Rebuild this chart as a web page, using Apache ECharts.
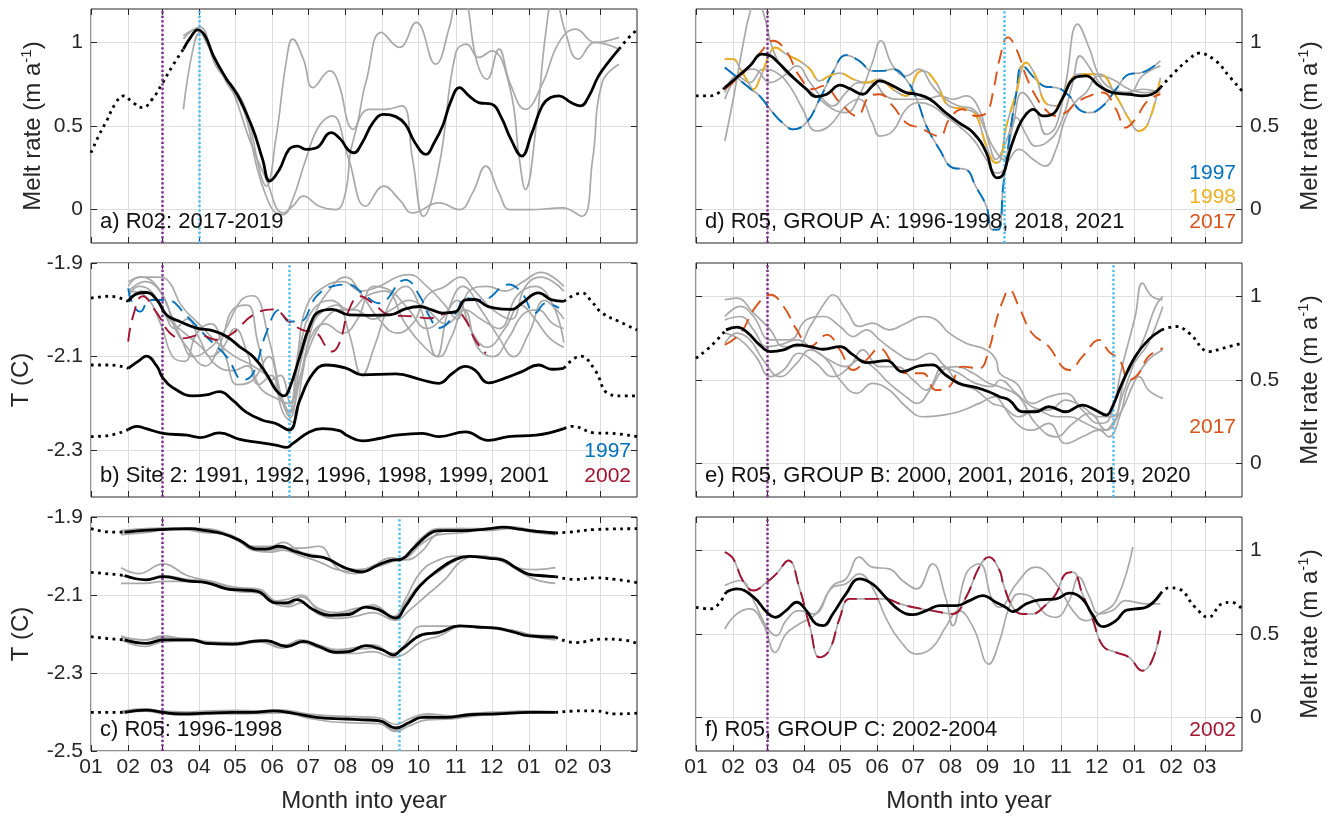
<!DOCTYPE html>
<html>
<head>
<meta charset="utf-8">
<script src="https://cdn.jsdelivr.net/npm/echarts@6/dist/echarts.min.js"></script>
<style>
  html, body { margin: 0; padding: 0; background: #fff; }
  #chart { width: 1336px; height: 820px; }
</style>
</head>
<body>
<div id="chart"></div>
<script>
// ---------- axes ----------
const MONTH_STARTS = [0, 31, 59, 90, 120, 151, 181, 212, 243, 273, 304, 334, 365, 396, 424];
const MONTH_LABELS = ['01', '02', '03', '04', '05', '06', '07', '08', '09', '10', '11', '12', '01', '02', '03'];
const DAY_MAX = 455;
const MELT_TICKS = [0, 0.5, 1];
const TEMP_TICKS_B = [-2.3, -2.1, -1.9];
const TEMP_TICKS_C = [-2.5, -2.3, -2.1, -1.9];

// ---------- a) R02 melt rate, [day, m/yr] ----------
const a_mean = [[0,0.34],[7,0.45],[13,0.53],[20,0.63],[27,0.68],[35,0.64],[43,0.61],[51,0.66],[59,0.75],[68,0.86],[77,0.96],[83,1.03],[89,1.075],[95,1.04],[102,0.92],[113,0.78],[118,0.73],[124,0.66],[135,0.48],[143,0.3],[149,0.17],[157,0.24],[165,0.36],[172,0.38],[179,0.36],[188,0.37],[200,0.46],[208,0.42],[214,0.36],[219,0.34],[226,0.4],[235,0.52],[244,0.57],[254,0.556],[262,0.51],[270,0.4],[279,0.33],[286,0.4],[293,0.5],[300,0.65],[307,0.73],[315,0.68],[323,0.64],[334,0.63],[342,0.55],[350,0.42],[359,0.32],[367,0.45],[376,0.62],[383,0.67],[390,0.68],[400,0.64],[408,0.62],[415,0.68],[423,0.8],[432,0.89],[440,0.96],[447,1.02],[454,1.07]];
const a_g1 = [[77,1.02],[84,1.07],[91,1.09],[104,0.86],[118,0.74],[129,0.6],[141,0.22],[146,0.14],[154,0.42],[163,0.9],[168,1.02],[177,0.9],[185,0.73],[199,0.83],[207,0.74],[214,0.52],[218,0.48],[229,0.76],[242,1.06],[257,0.97],[271,1.12],[287,0.87],[299,1.1],[306,1.3],[312,1.28],[321,0.9],[330,0.78],[340,0.96],[349,0.76],[362,0.6],[376,0.75],[390,1.0],[404,1.08],[420,1.0],[440,1.03]];
const a_g2 = [[77,0.6],[85,0.96],[91,1.06],[102,0.92],[118,0.71],[132,0.42],[146,0.18],[160,-0.02],[168,0.02],[177,0.08],[190,0.02],[204,0.0],[212,0.1],[218,0.4],[232,0.6],[245,0.6],[259,0.62],[268,0.3],[277,-0.04],[290,0.26],[304,0.94],[313,0.99],[323,0.91],[334,0.95],[349,0.73],[357,0.3],[362,0.12],[371,0.5],[379,1.06],[386,1.3],[395,1.07],[406,0.9],[420,1.0],[440,0.96]];
const a_g3 = [[77,1.04],[88,1.08],[96,1.0],[113,0.76],[127,0.6],[138,0.26],[146,0.08],[154,-0.02],[160,-0.03],[168,0.06],[179,0.3],[190,0.5],[201,0.56],[214,0.32],[229,0.02],[244,0.14],[257,0.06],[268,-0.02],[290,0.04],[307,0.0],[318,0.1],[329,0.26],[340,0.1],[349,0.0],[366,0.0],[393,0.01],[409,-0.04],[418,0.3],[426,0.76],[440,0.87]];

// ---------- b) Site 2 temperature, [day, degC] ----------
const b_mean1 = [[0,-1.975],[16,-1.971],[31,-1.982],[38,-1.966],[46,-1.963],[55,-1.979],[63,-2.011],[74,-2.025],[88,-2.039],[102,-2.045],[113,-2.057],[124,-2.079],[135,-2.1],[146,-2.136],[154,-2.171],[161,-2.184],[165,-2.171],[174,-2.1],[182,-2.036],[190,-2.004],[201,-1.999],[215,-2.011],[232,-2.012],[249,-2.011],[262,-1.998],[274,-1.993],[284,-2.0],[293,-2.007],[304,-2.004],[312,-1.979],[320,-1.978],[331,-1.993],[351,-1.999],[359,-1.986],[373,-1.964],[384,-1.979],[394,-1.982],[409,-1.964],[418,-1.985],[426,-2.007],[440,-2.025],[455,-2.043]];
const b_mean2 = [[0,-2.118],[16,-2.118],[31,-2.125],[41,-2.107],[46,-2.099],[55,-2.121],[60,-2.146],[71,-2.171],[85,-2.184],[96,-2.182],[107,-2.175],[118,-2.193],[129,-2.218],[143,-2.236],[154,-2.243],[165,-2.257],[174,-2.193],[185,-2.136],[196,-2.118],[213,-2.125],[226,-2.139],[254,-2.137],[276,-2.15],[290,-2.157],[301,-2.136],[312,-2.121],[320,-2.129],[331,-2.156],[345,-2.146],[359,-2.132],[373,-2.118],[384,-2.127],[394,-2.125],[408,-2.099],[420,-2.129],[431,-2.179],[443,-2.184],[455,-2.184]];
const b_mean3 = [[0,-2.271],[16,-2.268],[31,-2.256],[38,-2.249],[46,-2.254],[60,-2.264],[80,-2.268],[91,-2.273],[107,-2.263],[124,-2.277],[141,-2.284],[154,-2.289],[163,-2.294],[168,-2.286],[182,-2.261],[193,-2.254],[207,-2.258],[213,-2.268],[226,-2.28],[240,-2.275],[254,-2.268],[276,-2.264],[290,-2.271],[312,-2.261],[331,-2.279],[348,-2.271],[371,-2.268],[394,-2.254],[401,-2.249],[420,-2.263],[434,-2.264],[455,-2.271]];
const b_g1 = [[31,-1.95],[40,-1.93],[55,-1.93],[65,-1.94],[75,-1.99],[90,-2.03],[105,-2.07],[120,-2.1],[135,-2.12],[150,-2.15],[160,-2.2],[165,-2.22],[172,-2.1],[180,-1.99],[195,-1.95],[210,-1.94],[225,-1.96],[240,-1.95],[255,-1.93],[265,-1.925],[280,-1.95],[295,-1.99],[305,-2.02],[315,-1.96],[330,-1.95],[345,-1.96],[360,-1.94],[375,-1.92],[385,-1.93],[394,-1.95]];
const b_g2 = [[31,-1.97],[40,-1.95],[50,-1.96],[60,-2.0],[70,-2.04],[80,-2.02],[90,-2.06],[100,-2.1],[110,-2.08],[120,-2.04],[130,-2.09],[140,-2.16],[150,-2.14],[160,-2.22],[168,-2.24],[176,-2.14],[185,-2.03],[195,-2.0],[205,-1.99],[215,-2.05],[226,-2.14],[236,-2.08],[250,-1.98],[262,-1.95],[275,-2.0],[288,-2.1],[298,-2.0],[310,-1.95],[325,-2.0],[340,-2.06],[352,-2.1],[365,-2.05],[378,-1.98],[388,-2.0],[394,-2.02]];
const b_g3 = [[31,-1.96],[45,-1.94],[60,-1.97],[70,-2.04],[80,-2.08],[95,-2.12],[108,-2.07],[118,-2.0],[130,-1.99],[140,-2.08],[150,-2.15],[158,-2.14],[166,-2.2],[175,-2.07],[185,-2.0],[200,-1.98],[215,-2.0],[230,-1.97],[245,-1.96],[262,-2.03],[278,-2.08],[290,-2.1],[300,-2.06],[312,-2.0],[325,-2.02],[340,-2.04],[355,-1.97],[370,-1.95],[385,-1.99],[394,-2.07]];
const b_g4 = [[31,-1.94],[42,-1.93],[55,-1.95],[65,-2.0],[75,-2.06],[85,-2.1],[95,-2.09],[110,-2.05],[125,-1.98],[135,-1.97],[148,-2.06],[160,-2.2],[166,-2.23],[174,-2.12],[185,-2.02],[198,-1.96],[212,-1.93],[226,-1.97],[240,-2.02],[255,-2.05],[268,-2.03],[280,-1.97],[295,-1.95],[308,-1.93],[320,-1.96],[335,-2.0],[350,-2.02],[362,-1.95],[375,-1.93],[385,-1.94],[394,-1.96]];
const b_g5 = [[31,-1.96],[45,-1.97],[58,-2.03],[68,-2.1],[78,-2.11],[88,-2.05],[100,-2.03],[112,-2.1],[122,-2.16],[135,-2.15],[148,-2.1],[158,-2.18],[166,-2.22],[174,-2.15],[183,-2.06],[195,-2.03],[210,-2.05],[222,-2.02],[236,-1.95],[250,-1.96],[265,-2.0],[280,-2.04],[292,-2.02],[305,-1.98],[318,-2.05],[330,-2.08],[345,-2.04],[358,-1.99],[370,-2.02],[382,-2.06],[394,-2.08]];
const b_g6 = [[31,-1.98],[42,-1.96],[55,-1.98],[65,-2.02],[78,-2.05],[92,-2.08],[105,-2.12],[118,-2.13],[130,-2.12],[142,-2.17],[155,-2.19],[165,-2.2],[172,-2.16],[182,-2.08],[195,-2.02],[208,-2.0],[220,-2.0],[235,-2.02],[250,-2.0],[265,-1.98],[280,-2.0],[296,-2.03],[310,-2.0],[322,-2.08],[335,-2.1],[348,-2.06],[360,-2.01],[372,-2.0],[385,-2.03],[394,-2.04]];
const b_1997 = [[31,-1.954],[35,-1.989],[41,-2.004],[49,-1.979],[63,-1.979],[80,-2.014],[96,-2.057],[113,-2.1],[127,-2.15],[135,-2.136],[146,-2.05],[157,-2.0],[165,-2.025],[174,-2.025],[188,-1.971],[201,-1.95],[215,-1.946],[226,-1.964],[240,-1.986],[262,-1.936],[274,-1.971],[282,-2.014],[290,-2.039],[304,-2.007],[312,-1.975],[326,-1.979],[348,-1.946],[359,-1.964],[370,-2.007],[379,-1.986],[390,-1.996]];
const b_2002 = [[31,-2.068],[35,-2.014],[43,-1.971],[55,-2.007],[66,-2.05],[77,-2.061],[91,-2.054],[104,-2.064],[118,-2.05],[135,-2.011],[152,-1.999],[165,-2.025],[176,-2.043],[188,-2.05],[196,-2.079],[201,-2.089],[207,-2.071],[215,-2.0],[224,-1.971],[235,-1.986],[249,-2.011],[268,-2.014],[282,-2.018],[296,-2.007],[304,-2.004],[312,-2.021],[320,-2.064],[329,-2.093]];

// ---------- c) R05 temperature at four depths, [day, degC] ----------
const c_mean1 = [[0,-1.93],[19,-1.939],[28,-1.939],[41,-1.935],[60,-1.932],[82,-1.93],[96,-1.935],[110,-1.943],[124,-1.96],[138,-1.982],[146,-1.982],[157,-1.975],[168,-1.986],[182,-1.999],[196,-2.006],[206,-2.022],[213,-2.032],[226,-2.041],[238,-2.025],[249,-2.012],[259,-2.008],[268,-1.982],[282,-1.943],[290,-1.935],[310,-1.935],[332,-1.93],[343,-1.926],[359,-1.932],[371,-1.937],[387,-1.941],[398,-1.939],[420,-1.932],[455,-1.93]];
const c_mean2 = [[0,-2.042],[19,-2.047],[28,-2.05],[46,-2.061],[60,-2.053],[80,-2.064],[96,-2.068],[113,-2.084],[124,-2.087],[138,-2.09],[154,-2.12],[163,-2.12],[171,-2.112],[185,-2.137],[199,-2.152],[215,-2.15],[229,-2.131],[240,-2.138],[254,-2.159],[262,-2.129],[274,-2.077],[290,-2.034],[304,-2.008],[315,-2.001],[332,-2.006],[343,-2.01],[354,-2.03],[365,-2.047],[379,-2.051],[387,-2.053],[404,-2.06],[420,-2.056],[437,-2.06],[455,-2.068]];
const c_mean3 = [[0,-2.207],[19,-2.213],[28,-2.215],[46,-2.224],[60,-2.215],[85,-2.215],[96,-2.224],[118,-2.226],[135,-2.219],[146,-2.217],[163,-2.232],[177,-2.219],[190,-2.232],[204,-2.247],[215,-2.245],[229,-2.23],[243,-2.241],[252,-2.254],[259,-2.239],[276,-2.202],[290,-2.196],[307,-2.179],[321,-2.182],[338,-2.185],[351,-2.194],[365,-2.205],[387,-2.208],[404,-2.222],[426,-2.213],[443,-2.215],[455,-2.224]];
const c_mean4 = [[0,-2.401],[21,-2.401],[28,-2.401],[46,-2.395],[60,-2.401],[74,-2.405],[96,-2.403],[118,-2.401],[135,-2.401],[152,-2.397],[168,-2.403],[188,-2.414],[213,-2.418],[226,-2.42],[240,-2.422],[254,-2.441],[265,-2.427],[276,-2.414],[296,-2.414],[315,-2.407],[338,-2.405],[365,-2.401],[387,-2.401],[409,-2.397],[420,-2.397],[437,-2.405],[455,-2.403]];
const c_g1a = [[25,-1.935],[45,-1.93],[70,-1.928],[95,-1.93],[115,-1.945],[135,-1.975],[150,-1.975],[160,-1.965],[175,-1.99],[190,-2.0],[205,-2.02],[220,-2.035],[235,-2.03],[250,-2.015],[262,-2.0],[275,-1.955],[290,-1.93],[310,-1.93],[330,-1.93],[350,-1.925],[370,-1.935],[387,-1.94]];
const c_g1b = [[25,-1.94],[45,-1.935],[70,-1.932],[95,-1.935],[115,-1.95],[135,-1.98],[150,-1.985],[160,-1.98],[175,-1.98],[190,-1.975],[205,-2.03],[220,-2.045],[235,-2.03],[250,-2.01],[262,-2.005],[275,-1.97],[290,-1.945],[310,-1.94],[330,-1.93],[350,-1.928],[370,-1.935],[387,-1.94]];
const c_g1c = [[25,-1.945],[45,-1.94],[70,-1.93],[95,-1.94],[115,-1.945],[135,-1.985],[150,-1.99],[160,-1.985],[175,-2.0],[190,-2.015],[205,-2.035],[220,-2.04],[235,-2.025],[250,-2.005],[262,-2.01],[275,-1.99],[290,-1.94],[310,-1.93],[330,-1.935],[350,-1.93],[370,-1.94],[387,-1.945]];
const c_g2a = [[25,-2.03],[40,-2.045],[60,-2.02],[80,-2.05],[100,-2.065],[120,-2.08],[140,-2.085],[155,-2.115],[165,-2.11],[175,-2.1],[190,-2.14],[205,-2.15],[220,-2.14],[235,-2.125],[252,-2.155],[262,-2.11],[275,-2.04],[290,-2.01],[305,-2.0],[320,-2.0],[340,-2.005],[355,-2.03],[370,-2.035],[387,-2.03]];
const c_g2b = [[25,-2.07],[45,-2.07],[60,-2.065],[80,-2.065],[100,-2.07],[120,-2.09],[140,-2.095],[155,-2.125],[165,-2.13],[175,-2.12],[190,-2.15],[205,-2.16],[220,-2.155],[235,-2.145],[254,-2.165],[265,-2.14],[280,-2.1],[295,-2.06],[310,-2.01],[325,-2.0],[340,-2.01],[355,-2.035],[370,-2.06],[387,-2.07]];
const c_g2c = [[25,-2.05],[45,-2.06],[60,-2.05],[80,-2.06],[100,-2.065],[120,-2.085],[140,-2.09],[155,-2.12],[165,-2.125],[175,-2.105],[190,-2.135],[205,-2.145],[220,-2.135],[235,-2.13],[254,-2.16],[262,-2.12],[275,-2.07],[290,-2.04],[305,-2.01],[320,-2.0],[340,-2.008],[355,-2.03],[370,-2.05],[387,-2.055]];
const c_g3a = [[25,-2.21],[45,-2.215],[60,-2.205],[80,-2.215],[100,-2.222],[120,-2.225],[140,-2.215],[160,-2.232],[175,-2.215],[190,-2.228],[205,-2.24],[220,-2.235],[235,-2.228],[252,-2.25],[262,-2.225],[275,-2.18],[290,-2.18],[310,-2.18],[330,-2.185],[350,-2.19],[370,-2.205],[387,-2.21]];
const c_g3b = [[25,-2.215],[45,-2.232],[60,-2.22],[80,-2.218],[100,-2.226],[120,-2.228],[140,-2.22],[160,-2.236],[175,-2.222],[190,-2.236],[205,-2.25],[220,-2.25],[235,-2.245],[252,-2.26],[262,-2.25],[275,-2.22],[290,-2.205],[310,-2.18],[330,-2.183],[350,-2.195],[370,-2.208],[387,-2.215]];
const c_g3c = [[25,-2.205],[45,-2.215],[60,-2.21],[80,-2.212],[100,-2.22],[120,-2.222],[140,-2.218],[160,-2.228],[175,-2.218],[190,-2.23],[205,-2.242],[220,-2.24],[235,-2.236],[252,-2.25],[262,-2.235],[275,-2.2],[290,-2.195],[310,-2.18],[330,-2.185],[350,-2.19],[370,-2.203],[387,-2.205]];
const c_g4a = [[25,-2.4],[45,-2.393],[60,-2.4],[80,-2.403],[100,-2.4],[120,-2.398],[140,-2.4],[160,-2.398],[180,-2.41],[200,-2.418],[220,-2.418],[240,-2.425],[254,-2.447],[265,-2.43],[280,-2.41],[300,-2.415],[320,-2.407],[340,-2.402],[365,-2.398],[387,-2.4]];
const c_g4b = [[25,-2.403],[45,-2.398],[60,-2.404],[80,-2.408],[100,-2.405],[120,-2.405],[140,-2.404],[160,-2.402],[180,-2.415],[200,-2.425],[220,-2.428],[240,-2.43],[254,-2.45],[265,-2.436],[280,-2.42],[300,-2.418],[320,-2.41],[340,-2.406],[365,-2.402],[387,-2.4]];
const c_g4c = [[25,-2.398],[45,-2.392],[60,-2.398],[80,-2.4],[100,-2.397],[120,-2.396],[140,-2.397],[160,-2.395],[180,-2.405],[200,-2.41],[220,-2.412],[240,-2.415],[254,-2.432],[265,-2.418],[280,-2.405],[300,-2.41],[320,-2.403],[340,-2.4],[365,-2.398],[387,-2.399]];

// ---------- d) R05 group A melt rate ----------
const d_mean = [[0,0.68],[12,0.68],[24,0.73],[34,0.79],[45,0.86],[55,0.93],[62,0.92],[67,0.89],[81,0.79],[92,0.72],[100,0.676],[109,0.69],[120,0.744],[128,0.724],[139,0.69],[147,0.74],[153,0.77],[164,0.74],[175,0.7],[184,0.69],[195,0.66],[208,0.58],[219,0.52],[231,0.46],[242,0.34],[247,0.22],[251,0.19],[256,0.21],[261,0.34],[269,0.5],[275,0.57],[281,0.6],[289,0.56],[297,0.57],[305,0.66],[316,0.79],[325,0.8],[336,0.74],[347,0.7],[361,0.69],[372,0.68],[380,0.69],[387,0.73],[400,0.83],[411,0.9],[419,0.936],[433,0.89],[444,0.8],[455,0.71]];
const d_1997 = [[24,0.85],[31,0.81],[39,0.76],[46,0.72],[53,0.68],[64,0.58],[72,0.52],[81,0.48],[92,0.52],[103,0.66],[114,0.82],[125,0.924],[136,0.89],[147,0.83],[155,0.83],[164,0.84],[175,0.78],[184,0.66],[192,0.5],[203,0.36],[214,0.25],[225,0.24],[233,0.14],[242,0.02],[247,-0.12],[252,-0.12],[256,0.14],[261,0.42],[267,0.7],[272,0.86],[283,0.78],[291,0.736],[300,0.73],[311,0.68],[319,0.6],[328,0.58],[339,0.62],[350,0.72],[361,0.81],[372,0.82],[380,0.85],[387,0.89]];
const d_1998 = [[24,0.9],[31,0.9],[37,0.84],[42,0.78],[48,0.72],[53,0.78],[62,0.94],[66,0.97],[75,0.93],[86,0.89],[95,0.84],[103,0.77],[111,0.8],[120,0.816],[131,0.78],[142,0.76],[153,0.78],[164,0.72],[175,0.68],[184,0.81],[189,0.83],[200,0.76],[211,0.62],[225,0.6],[233,0.57],[242,0.38],[250,0.28],[254,0.3],[258,0.48],[267,0.7],[275,0.88],[283,0.8],[291,0.64],[300,0.62],[311,0.76],[319,0.81],[336,0.81],[350,0.68],[361,0.54],[369,0.47],[377,0.52],[387,0.79]];
const d_2017 = [[24,0.72],[34,0.78],[45,0.86],[56,0.96],[64,1.01],[75,0.95],[86,0.8],[98,0.72],[106,0.74],[120,0.64],[134,0.56],[145,0.68],[153,0.69],[164,0.62],[175,0.52],[186,0.49],[203,0.44],[211,0.54],[222,0.6],[233,0.56],[242,0.58],[248,0.72],[253,0.9],[260,1.03],[267,0.96],[275,0.8],[283,0.68],[291,0.6],[300,0.56],[308,0.58],[317,0.64],[328,0.68],[339,0.7],[350,0.6],[358,0.49],[366,0.54],[375,0.64],[383,0.68],[387,0.69]];
const d_g1 = [[24,0.41],[31,0.66],[39,0.98],[45,1.18],[50,1.26],[56,1.18],[64,0.96],[75,0.82],[86,0.76],[100,0.68],[114,0.6],[125,0.58],[136,0.68],[147,0.88],[154,1.01],[164,0.86],[175,0.8],[186,0.84],[197,0.74],[208,0.66],[219,0.62],[231,0.6],[242,0.46],[247,0.38],[256,0.3],[264,0.5],[272,0.7],[283,0.6],[292,0.45],[300,0.5],[308,0.75],[318,1.11],[328,0.96],[336,0.8],[347,0.72],[361,0.7],[372,0.8],[387,0.86]];
const d_g2 = [[24,0.66],[37,0.82],[48,0.84],[62,0.76],[73,0.8],[84,0.86],[95,0.76],[106,0.66],[114,0.62],[125,0.7],[136,0.76],[147,0.76],[158,0.68],[170,0.66],[181,0.66],[192,0.66],[203,0.68],[214,0.66],[225,0.68],[236,0.6],[244,0.4],[250,0.3],[258,0.4],[267,0.55],[275,0.45],[283,0.38],[292,0.4],[303,0.5],[314,0.76],[320,0.92],[328,0.85],[336,0.76],[347,0.7],[358,0.7],[372,0.72],[387,0.7]];
const d_g3 = [[24,0.7],[34,0.8],[45,0.76],[56,0.84],[67,0.82],[78,0.74],[89,0.6],[100,0.47],[111,0.5],[125,0.62],[136,0.66],[147,0.52],[153,0.44],[164,0.47],[175,0.6],[186,0.64],[197,0.62],[208,0.56],[219,0.5],[231,0.42],[242,0.3],[250,0.22],[253,0.22],[261,0.3],[269,0.36],[281,0.3],[291,0.26],[300,0.36],[308,0.55],[317,0.65],[325,0.7],[336,0.8],[347,0.78],[361,0.72],[375,0.7],[387,0.72]];

// ---------- e) R05 group B melt rate ----------
const e_mean = [[0,0.63],[12,0.7],[25,0.8],[34,0.816],[42,0.79],[53,0.71],[62,0.67],[73,0.68],[84,0.71],[95,0.7],[106,0.684],[120,0.7],[131,0.65],[142,0.604],[159,0.616],[172,0.55],[186,0.584],[197,0.59],[208,0.53],[219,0.48],[233,0.456],[244,0.43],[253,0.4],[261,0.38],[272,0.31],[283,0.31],[294,0.34],[308,0.31],[322,0.35],[333,0.32],[342,0.29],[347,0.34],[355,0.48],[366,0.64],[377,0.74],[388,0.8],[400,0.82],[411,0.78],[428,0.67],[439,0.69],[455,0.72]];
const e_2017 = [[24,0.71],[37,0.78],[50,0.94],[62,1.01],[73,0.94],[84,0.8],[95,0.7],[109,0.77],[120,0.68],[131,0.56],[142,0.62],[153,0.69],[164,0.6],[175,0.54],[189,0.54],[200,0.44],[211,0.46],[222,0.58],[236,0.57],[244,0.68],[250,0.85],[256,0.98],[261,1.04],[269,0.94],[280,0.78],[294,0.7],[305,0.58],[311,0.56],[322,0.64],[336,0.74],[344,0.67],[353,0.62],[361,0.5],[369,0.54],[377,0.64],[389,0.69]];
const e_g1 = [[24,0.98],[34,0.99],[48,0.9],[62,0.8],[73,0.7],[84,0.7],[95,0.82],[109,0.98],[114,1.01],[125,0.92],[136,0.82],[147,0.84],[161,0.8],[175,0.84],[189,0.88],[200,0.86],[211,0.78],[225,0.72],[242,0.68],[250,0.62],[253,0.54],[267,0.48],[280,0.36],[294,0.4],[308,0.42],[322,0.32],[336,0.24],[344,0.26],[355,0.58],[366,0.88],[372,1.08],[380,1.0],[389,0.98]];
const e_g2 = [[24,0.88],[37,0.94],[48,0.88],[62,0.74],[78,0.74],[92,0.86],[106,0.88],[120,0.82],[131,0.76],[142,0.8],[153,0.74],[164,0.68],[181,0.62],[195,0.66],[208,0.58],[219,0.54],[233,0.48],[247,0.46],[253,0.5],[267,0.42],[280,0.34],[294,0.32],[308,0.38],[322,0.34],[336,0.28],[347,0.28],[358,0.52],[369,0.64],[377,0.72],[389,0.94]];
const e_g3 = [[24,0.86],[37,0.88],[48,0.8],[59,0.7],[70,0.71],[84,0.74],[98,0.68],[111,0.62],[125,0.58],[136,0.62],[147,0.58],[161,0.48],[175,0.4],[184,0.36],[195,0.44],[206,0.56],[217,0.58],[231,0.54],[244,0.48],[253,0.46],[269,0.4],[283,0.24],[300,0.16],[314,0.24],[328,0.3],[342,0.2],[347,0.24],[355,0.32],[366,0.5],[377,0.62],[389,0.68]];
const e_g4 = [[24,0.72],[34,0.78],[45,0.74],[56,0.62],[70,0.52],[84,0.6],[95,0.68],[109,0.62],[120,0.5],[134,0.42],[147,0.48],[161,0.44],[175,0.34],[189,0.28],[206,0.29],[219,0.31],[236,0.36],[250,0.4],[253,0.38],[267,0.24],[280,0.2],[294,0.24],[308,0.12],[322,0.16],[336,0.2],[344,0.16],[353,0.28],[361,0.48],[369,0.52],[377,0.44],[389,0.39]];
const e_g5 = [[24,0.78],[37,0.74],[50,0.64],[62,0.52],[73,0.56],[86,0.66],[100,0.6],[114,0.52],[128,0.58],[139,0.68],[153,0.58],[167,0.58],[181,0.5],[192,0.44],[206,0.58],[219,0.48],[233,0.44],[247,0.36],[256,0.34],[269,0.28],[283,0.32],[300,0.28],[311,0.28],[325,0.24],[339,0.2],[347,0.22],[355,0.4],[366,0.62],[375,0.78],[383,0.94],[389,1.0]];

// ---------- f) R05 group C melt rate ----------
const f_mean = [[0,0.66],[12,0.65],[25,0.75],[34,0.77],[48,0.72],[59,0.63],[66,0.6],[75,0.64],[84,0.69],[92,0.64],[100,0.56],[106,0.55],[114,0.62],[125,0.74],[136,0.83],[147,0.8],[158,0.72],[170,0.64],[181,0.616],[192,0.64],[203,0.67],[217,0.67],[228,0.7],[239,0.73],[250,0.69],[258,0.66],[264,0.634],[275,0.68],[286,0.704],[300,0.71],[311,0.744],[322,0.71],[330,0.62],[339,0.544],[350,0.58],[358,0.64],[366,0.65],[375,0.66],[387,0.74],[394,0.776],[402,0.77],[416,0.66],[427,0.6],[438,0.68],[446,0.69],[455,0.65]];
const f_2002 = [[24,0.99],[31,0.95],[39,0.82],[48,0.76],[59,0.81],[67,0.86],[77,0.94],[86,0.78],[95,0.54],[103,0.36],[111,0.4],[120,0.6],[128,0.71],[142,0.71],[158,0.71],[170,0.68],[181,0.66],[197,0.64],[214,0.62],[225,0.72],[236,0.9],[244,0.96],[253,0.88],[256,0.8],[264,0.66],[272,0.62],[280,0.62],[291,0.67],[300,0.74],[308,0.86],[314,0.87],[322,0.74],[330,0.6],[339,0.43],[350,0.39],[361,0.36],[372,0.28],[380,0.34],[387,0.52]];
const f_g1 = [[24,0.79],[37,0.82],[48,0.7],[59,0.54],[67,0.49],[75,0.58],[86,0.64],[98,0.62],[114,0.79],[125,0.83],[136,0.96],[147,0.9],[161,0.89],[172,0.82],[184,0.77],[197,0.92],[208,0.72],[214,0.55],[225,0.86],[236,0.92],[247,0.7],[253,0.66],[267,0.8],[283,0.9],[300,0.8],[314,0.64],[325,0.58],[336,0.62],[350,0.7],[364,1.02]];
const f_g2 = [[24,0.53],[34,0.62],[45,0.65],[56,0.56],[66,0.39],[75,0.5],[86,0.56],[100,0.62],[114,0.78],[125,0.8],[136,0.86],[147,0.78],[158,0.6],[170,0.46],[184,0.38],[197,0.42],[208,0.54],[219,0.64],[231,0.54],[244,0.32],[253,0.46],[261,0.66],[269,0.74],[280,0.72],[291,0.62],[300,0.6],[311,0.7],[319,0.84],[328,0.72],[336,0.62],[347,0.64],[358,0.7],[375,0.68],[387,0.68]];

// ---------- styling ----------
const FONT = '"Liberation Sans", Arial, Helvetica, sans-serif';
const INK = '#262626';
const GRIDLINE = '#dedede';
const GRAY = '#a9a9a9';
const BLUE = '#0072BD', YELLOW = '#EDB120', ORANGE = '#D95319', CRIMSON = '#A2142F';
const PURPLE = '#7E2F8E', CYAN = '#4DBEEE';

const COL_LEFT = [91, 696];
const ROW_TOP = [9, 263, 517];
const PW = 546, PH = 234;

const MELT = { min: -0.2, max: 1.2, ticks: MELT_TICKS, fmt: v => String(v) };
const TEMP_B = { min: -2.4, max: -1.9, ticks: TEMP_TICKS_B, fmt: v => v.toFixed(1) };
const TEMP_C = { min: -2.5, max: -1.9, ticks: TEMP_TICKS_C, fmt: v => v.toFixed(1) };
const MELT_NAME = '{t|Melt rate (m a}{s|-1}{t|)}';

const panels = [
  { col: 0, row: 0, y: MELT, name: MELT_NAME, gap: 44, title: 'a) R02: 2017-2019',
    grays: [a_g1, a_g2, a_g3], means: [[a_mean, 77, 440]],
    dashed: [], marks: [[59, PURPLE], [90, CYAN]], years: [] },
  { col: 0, row: 1, y: TEMP_B, name: 'T (C)', gap: 58, title: 'b) Site 2: 1991, 1992, 1996, 1998, 1999, 2001',
    grays: [b_g1, b_g2, b_g3, b_g4, b_g5, b_g6], means: [[b_mean1, 31, 394], [b_mean2, 31, 394], [b_mean3, 31, 394]],
    dashed: [[b_1997, BLUE], [b_2002, CRIMSON]], marks: [[59, PURPLE], [165, CYAN]],
    years: [['1997', BLUE], ['2002', CRIMSON]] },
  { col: 0, row: 2, y: TEMP_C, name: 'T (C)', gap: 58, title: 'c) R05: 1996-1998',
    grays: [c_g1a, c_g1b, c_g1c, c_g2a, c_g2b, c_g2c, c_g3a, c_g3b, c_g3c, c_g4a, c_g4b, c_g4c],
    means: [[c_mean1, 28, 387], [c_mean2, 28, 387], [c_mean3, 28, 387], [c_mean4, 28, 387]],
    dashed: [], marks: [[59, PURPLE], [257, CYAN]], years: [] },
  { col: 1, row: 0, y: MELT, name: MELT_NAME, gap: 54, title: 'd) R05, GROUP A: 1996-1998, 2018, 2021',
    grays: [d_g1, d_g2, d_g3, d_1997, d_1998], means: [[d_mean, 24, 387]],
    dashed: [[d_1997, BLUE], [d_1998, YELLOW], [d_2017, ORANGE]], marks: [[59, PURPLE], [257, CYAN]],
    years: [['1997', BLUE], ['1998', YELLOW], ['2017', ORANGE]] },
  { col: 1, row: 1, y: MELT, name: MELT_NAME, gap: 54, title: 'e) R05, GROUP B: 2000, 2001, 2016, 2019, 2020',
    grays: [e_g1, e_g2, e_g3, e_g4, e_g5], means: [[e_mean, 25, 388]],
    dashed: [[e_2017, ORANGE]], marks: [[59, PURPLE], [348, CYAN]],
    years: [['2017', ORANGE], null, null] },
  { col: 1, row: 2, y: MELT, name: MELT_NAME, gap: 54, title: 'f) R05, GROUP C: 2002-2004',
    grays: [f_g1, f_g2, f_2002], means: [[f_mean, 25, 387]],
    dashed: [[f_2002, CRIMSON]], marks: [[59, PURPLE]], years: [['2002', CRIMSON]] }
];

const monthLabel = v => MONTH_LABELS[MONTH_STARTS.indexOf(v)] || '';
const noLine = { show: false, onZero: false };
const tickStyle = { inside: true, length: 6, lineStyle: { color: INK, width: 1 } };
const labelStyle = { fontSize: 21, color: INK, fontFamily: FONT };
const nameStyle = {
  fontSize: 24, color: INK, fontFamily: FONT,
  rich: {
    t: { fontSize: 24, color: INK, fontFamily: FONT, lineHeight: 28 },
    s: { fontSize: 15, color: INK, fontFamily: FONT, verticalAlign: 'top', lineHeight: 28 }
  }
};
const lineBase = { type: 'line', symbol: 'none', smooth: 0.45, silent: true, animation: false, clip: true };

const grid = [], xAxis = [], yAxis = [], series = [], graphic = [];

panels.forEach((p, i) => {
  const left = COL_LEFT[p.col], top = ROW_TOP[p.row];
  const bottomRow = p.row === 2;
  const side = p.col === 0 ? 'left' : 'right';
  const other = p.col === 0 ? 'right' : 'left';

  grid.push({ left, top, width: PW, height: PH, show: true, borderColor: INK, borderWidth: 1,
              backgroundColor: '#fff', containLabel: false, outerBoundsMode: 'none' });

  xAxis.push({
    type: 'value', gridIndex: i, min: 0, max: DAY_MAX, position: 'bottom',
    axisLine: noLine,
    axisTick: Object.assign({ customValues: MONTH_STARTS }, tickStyle),
    axisLabel: Object.assign({ show: bottomRow, customValues: MONTH_STARTS, formatter: monthLabel, margin: 6 }, labelStyle),
    splitLine: { show: true, lineStyle: { color: GRIDLINE, width: 1 } },
    name: bottomRow ? 'Month into year' : '', nameLocation: 'middle', nameGap: 38,
    nameTextStyle: { fontSize: 24, color: INK, fontFamily: FONT }
  });
  xAxis.push({
    type: 'value', gridIndex: i, min: 0, max: DAY_MAX, position: 'top',
    axisLine: noLine,
    axisTick: Object.assign({ customValues: MONTH_STARTS }, tickStyle),
    axisLabel: { show: false }, splitLine: { show: false }
  });

  yAxis.push({
    type: 'value', gridIndex: i, min: p.y.min, max: p.y.max, position: side,
    axisLine: noLine,
    axisTick: Object.assign({ customValues: p.y.ticks }, tickStyle),
    axisLabel: Object.assign({ customValues: p.y.ticks, formatter: p.y.fmt, margin: 8 }, labelStyle),
    splitLine: { show: true, lineStyle: { color: GRIDLINE, width: 1 } },
    name: p.name, nameLocation: 'middle', nameRotate: 90, nameGap: p.gap,
    nameTextStyle: nameStyle
  });
  yAxis.push({
    type: 'value', gridIndex: i, min: p.y.min, max: p.y.max, position: other,
    axisLine: noLine,
    axisTick: Object.assign({ customValues: p.y.ticks }, tickStyle),
    axisLabel: { show: false }, splitLine: { show: false }
  });

  const ax = { xAxisIndex: 2 * i, yAxisIndex: 2 * i };

  p.grays.forEach(d => series.push(Object.assign({}, lineBase, ax, {
    data: d, z: 2, lineStyle: { color: GRAY, width: 1.7 }
  })));

  p.dashed.forEach(([d, c]) => series.push(Object.assign({}, lineBase, ax, {
    data: d, z: 3, lineStyle: { color: c, width: 1.9, type: [14, 8] }
  })));

  p.means.forEach(([d, from, to], k) => {
    const lead = d.filter(q => q[0] <= from);
    const body = d.filter(q => q[0] >= from && q[0] <= to);
    const tail = d.filter(q => q[0] >= to);
    const dotted = { color: '#000', width: 2.8, type: [2.8, 4.4] };
    series.push(Object.assign({}, lineBase, ax, { data: lead, z: 4, lineStyle: dotted }));
    series.push(Object.assign({}, lineBase, ax, { data: tail, z: 4, lineStyle: dotted }));
    const bodySeries = Object.assign({}, lineBase, ax, { data: body, z: 5, lineStyle: { color: '#000', width: 2.8 } });
    if (k === 0) {
      bodySeries.markLine = {
        silent: true, symbol: ['none', 'none'], animation: false, label: { show: false },
        emphasis: { disabled: true },
        data: p.marks.map(([day, c]) => ({ xAxis: day, lineStyle: { color: c, width: 2.5, type: [2.3, 2.2] } }))
      };
    }
    series.push(bodySeries);
  });

  graphic.push({
    type: 'text', x: left + 9, y: top + PH - 21, z: 100, silent: true,
    style: { text: p.title, fill: '#111', fontSize: 22, fontFamily: FONT,
             verticalAlign: 'middle', textVerticalAlign: 'middle', align: 'left', textAlign: 'left' }
  });
  p.years.forEach((yr, k) => {
    if (!yr) return;
    const slot = p.years.length - 1 - k;
    graphic.push({
      type: 'text', x: left + PW - 6, y: top + PH - 21 - 24.5 * slot, z: 100, silent: true,
      style: { text: yr[0], fill: yr[1], fontSize: 21, fontFamily: FONT,
               verticalAlign: 'middle', textVerticalAlign: 'middle', align: 'right', textAlign: 'right' }
    });
  });
});

const chart = echarts.init(document.getElementById('chart'), null, { renderer: 'canvas' });
chart.setOption({ animation: false, backgroundColor: '#fff', grid, xAxis, yAxis, series, graphic });
</script>
</body>
</html>
